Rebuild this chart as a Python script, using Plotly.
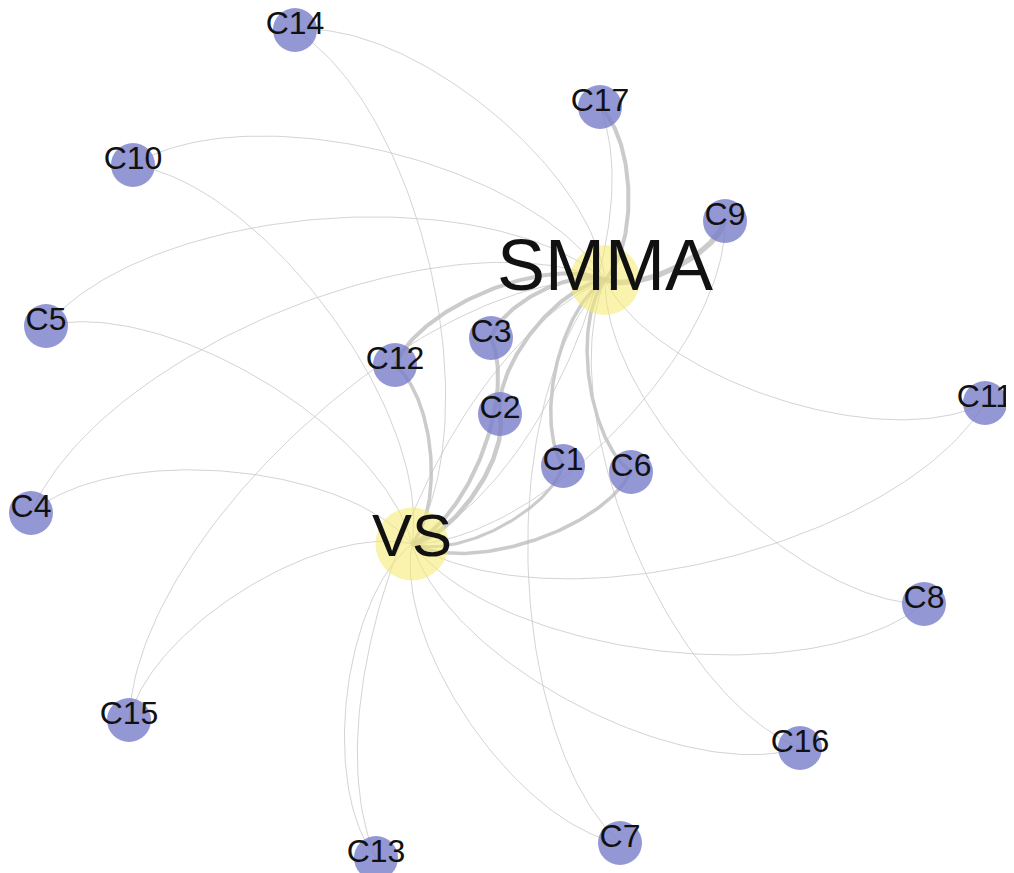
import numpy as np
import plotly.graph_objects as go

# ---- data ----
node_names = ["SMMA", "VS", "C1", "C2", "C3", "C4", "C5", "C6", "C7", "C8", "C9",
              "C10", "C11", "C12", "C13", "C14", "C15", "C16", "C17"]
node_x = [605, 412, 563, 500, 491, 31, 46, 631, 620, 924, 725,
          133, 985, 395, 376, 295, 129, 800, 600]
node_y = [280, 544, 466, 414, 338, 513, 326, 472, 843, 604, 221,
          165, 403, 365, 858, 30, 720, 748, 107]
node_group = ["hub", "hub"] + ["c"] * 17

edge_source = ["C1", "C2", "C3", "C4", "C5", "C6", "C7", "C8", "C9", "C10", "C11",
               "C12", "C13", "C14", "C15", "C16", "C17",
               "C1", "C2", "C3", "C4", "C5", "C6", "C7", "C8", "C9", "C10", "C11",
               "C12", "C13", "C14", "C15", "C16", "C17"]
edge_target = ["SMMA"] * 17 + ["VS"] * 17
edge_weight = [3.5, 4, 4, 1, 1, 3.5, 1, 1, 5.5, 1, 1, 4, 1, 1, 1, 1, 4,
               3, 4.5, 4, 1, 1, 3.5, 1, 1, 1, 1, 1, 3.5, 1, 1, 1, 1, 1]

pos = {n: (x, y) for n, x, y in zip(node_names, node_x, node_y)}

fig = go.Figure()

def bezier(p0, p1, p2, p3, n=80):
    t = np.linspace(0, 1, n)[:, None]
    return ((1 - t) ** 3) * p0 + 3 * ((1 - t) ** 2) * t * p1 + 3 * (1 - t) * t ** 2 * p2 + t ** 3 * p3

for s, tg, w in zip(edge_source, edge_target, edge_weight):
    a = np.array(pos[s], float)
    b = np.array(pos[tg], float)
    d = b - a
    L = np.hypot(*d)
    u = d / L
    nrm = np.array([u[1], -u[0]])
    f = 0.2 * L
    c1 = a + u * f + nrm * f
    c2 = b - u * f + nrm * f
    pts = bezier(a, c1, c2, b)
    thick = w > 1.5
    fig.add_trace(go.Scatter(
        x=pts[:, 0], y=pts[:, 1], mode="lines",
        line=dict(color="rgba(185,185,185,0.75)" if thick else "rgba(200,200,200,0.8)",
                  width=w if thick else 1),
        hoverinfo="skip", showlegend=False))

# nodes
cx = [x for x, g in zip(node_x, node_group) if g == "c"]
cy = [y for y, g in zip(node_y, node_group) if g == "c"]
cn = [n for n, g in zip(node_names, node_group) if g == "c"]
hx = [x for x, g in zip(node_x, node_group) if g == "hub"]
hy = [y for y, g in zip(node_y, node_group) if g == "hub"]
hn = [n for n, g in zip(node_names, node_group) if g == "hub"]

fig.add_trace(go.Scatter(x=cx, y=cy, mode="markers",
                         marker=dict(size=44, color="rgba(120,125,200,0.8)", line=dict(width=0)),
                         hoverinfo="skip", showlegend=False))
fig.add_trace(go.Scatter(x=hx, y=hy, mode="markers",
                         marker=dict(size=[70, 73], color="rgba(246,234,110,0.8)", line=dict(width=0)),
                         hoverinfo="skip", showlegend=False))

# labels
fig.add_trace(go.Scatter(x=cx, y=[y - 4 for y in cy], mode="text", text=cn,
                         textposition="middle center", cliponaxis=False,
                         textfont=dict(family="Liberation Sans, Arial", size=32, color="#111111"),
                         hoverinfo="skip", showlegend=False))
fig.add_trace(go.Scatter(x=hx, y=[hy[0] - 8, hy[1] - 3], mode="text", text=hn,
                         textposition="middle center", cliponaxis=False,
                         textfont=dict(family="Liberation Sans, Arial", size=[72, 60], color="#111111"),
                         hoverinfo="skip", showlegend=False))

# the page body has an 8px margin: size the figure to fit the window and
# offset the axis ranges so data units equal window pixels
fig.update_layout(
    width=1006, height=865,
    margin=dict(l=0, r=0, t=0, b=0),
    paper_bgcolor="white", plot_bgcolor="white",
    xaxis=dict(range=[8, 1014], visible=False, fixedrange=True),
    yaxis=dict(range=[873, 8], visible=False, fixedrange=True),
    showlegend=False,
)

fig.write_html("out.html")
